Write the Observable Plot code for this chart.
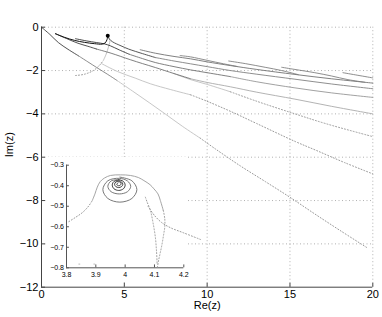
<!DOCTYPE html>
<html><head><meta charset="utf-8">
<script src="https://cdn.jsdelivr.net/npm/d3@7"></script>
<script src="https://cdn.jsdelivr.net/npm/@observablehq/plot@0.6"></script>
<style>
html,body{margin:0;padding:0;background:#fff;}
#wrap{position:relative;width:382px;height:317px;overflow:hidden;}
#wrap svg{position:absolute;overflow:visible;}
</style></head><body><div id="wrap"></div>
<script>
// ---------- main axes data ----------
const mainXTicks = [0, 5, 10, 15, 20];
const mainYTicks = [0, -2, -4, -6, -8, -10, -12];
const mainXGrid = [5, 10, 15, 20];
const mainYGrid = [0, -2, -4, -6, -8, -10];

// trajectories [Re, Im]
const originCurve = [[0,0],[0.5,-0.33],[1.02,-0.71],[1.6,-1.02],[2.23,-1.32],[2.8,-1.6],[3.33,-1.86],[4.0,-2.18],[4.56,-2.46],[5.5,-2.95],[6.5,-3.48],[7.5,-4.02],[8.5,-4.57],[9.58,-5.12],[10.5,-5.62],[12,-6.4],[13.5,-7.12],[15,-7.85],[16.5,-8.62],[18,-9.37],[19.7,-10.2]];
const upperToCusp = [[0.84,-0.30],[1.4,-0.47],[2.0,-0.61],[2.6,-0.70],[3.2,-0.76],[3.66,-0.78],[3.85,-0.72],[3.96,-0.56],[4.0,-0.42]];
const lowerFromStart = [[0.84,-0.30],[1.5,-0.52],[2.2,-0.74],[2.8,-0.88],[3.33,-1.01],[4.2,-1.20],[5.36,-1.50],[6.1,-1.68],[6.87,-1.86],[8,-2.14],[9,-2.38],[10,-2.55],[11.4,-2.75],[13,-3.0],[15.3,-3.32],[17.5,-3.65],[20,-4.0]];
const secondStart = [[2.05,-0.53],[2.7,-0.63],[3.33,-0.71],[3.8,-0.77],[4.16,-0.86],[4.7,-1.05],[5.3,-1.25],[6.1,-1.45],[6.87,-1.63],[8,-1.82],[9,-1.97],[10,-2.10],[11.4,-2.28],[13,-2.52],[15.3,-2.8],[17.5,-3.03],[20,-3.24]];
const cuspCurve = [[4.0,-0.42],[4.1,-0.55],[4.3,-0.68],[4.8,-0.86],[5.26,-1.01],[6.1,-1.22],[6.87,-1.40],[8,-1.56],[9,-1.69],[10,-1.82],[11.4,-2.0],[13,-2.17],[15.3,-2.40],[17.5,-2.62],[20,-2.84]];
const dash1 = [[5.96,-1.04],[6.87,-1.20],[8,-1.35],[9,-1.46],[10,-1.60],[11.4,-1.77],[13,-1.95],[15.3,-2.18],[17.5,-2.38],[20,-2.58]];
const dash2 = [[8.37,-1.31],[9,-1.37],[10,-1.53],[11.0,-1.69],[11.8,-1.81]];
const dash3 = [[11.3,-1.56],[12.3,-1.68],[13.5,-1.85],[14.5,-2.0],[15.5,-2.19]];
const dash4 = [[14.5,-1.85],[15.3,-1.95],[16.5,-2.1],[17.5,-2.25],[18.5,-2.42],[19.5,-2.54]];
const dash5 = [[18.2,-2.10],[19.1,-2.22],[20,-2.34]];
const risingCurve = [[2.05,-2.23],[2.6,-2.17],[3.13,-2.0],[3.5,-1.76],[3.73,-1.54],[3.9,-1.25],[4.04,-0.92],[4.12,-0.7],[4.12,-0.55],[4.05,-0.45]];
const branchP = [[3.6,-1.67],[4.6,-2.05],[5.66,-2.35],[6.57,-2.61],[7.8,-2.88],[9,-3.12],[10,-3.42],[11.4,-3.88],[13,-4.45],[15.3,-5.27],[16.6,-5.69],[18.3,-6.25],[20,-6.77]];
const branchQ = [[8,-2.14],[9,-2.42],[10,-2.64],[11.4,-2.98],[13,-3.42],[15.3,-4.0],[17.2,-4.46],[20,-5.05]];
const cuspPoint = [[4.0,-0.39]];

// ---------- inset data ----------
const insetXTicks = [3.8, 3.9, 4, 4.1, 4.2];
const insetYTicks = [-0.3, -0.4, -0.5, -0.6, -0.7, -0.8];
const arcLeft = [[3.808,-0.575],[3.83,-0.555],[3.855,-0.53],[3.875,-0.50],[3.888,-0.472]];
const arcTop = [[3.888,-0.472],[3.897,-0.44],[3.905,-0.407],[3.915,-0.38],[3.93,-0.362],[3.95,-0.350],[3.984,-0.347],[4.018,-0.350],[4.045,-0.36],[4.064,-0.375],[4.085,-0.395],[4.098,-0.415],[4.112,-0.44],[4.12,-0.472],[4.13,-0.52]];
const arcRight = [[4.13,-0.52],[4.135,-0.56],[4.135,-0.602],[4.131,-0.64],[4.126,-0.683],[4.12,-0.725],[4.114,-0.764],[4.11,-0.797]];
const branchDown = [[4.069,-0.456],[4.075,-0.48],[4.086,-0.52],[4.095,-0.58],[4.103,-0.651],[4.107,-0.72],[4.109,-0.78]];
const branchOut = [[4.078,-0.50],[4.1,-0.545],[4.125,-0.58],[4.155,-0.605],[4.2,-0.63],[4.257,-0.662]];
const bottomTrail = [[3.842,-0.782],[3.893,-0.782],[3.944,-0.782]];
const spiralOuter = [[3.982,-0.358],[4.023,-0.376],[4.040,-0.419],[4.023,-0.462],[3.982,-0.480],[3.941,-0.462],[3.924,-0.419],[3.941,-0.376],[3.98,-0.364],[4.008,-0.377],[4.019,-0.403],[4.008,-0.429],[3.98,-0.440],[3.952,-0.429],[3.941,-0.403],[3.952,-0.377],[3.978,-0.370]];
const spiralInner = [[3.978,-0.370],[3.994,-0.379],[4.000,-0.397],[3.994,-0.415],[3.978,-0.423],[3.962,-0.415],[3.956,-0.397],[3.962,-0.379],[3.978,-0.375],[3.988,-0.382],[3.992,-0.393],[3.988,-0.404],[3.978,-0.409],[3.968,-0.404],[3.964,-0.393],[3.968,-0.382],[3.978,-0.379],[3.985,-0.386],[3.986,-0.393],[3.978,-0.400],[3.971,-0.393],[3.976,-0.386]];

// ---------- helpers ----------
const FONT = "'Liberation Sans', Arial, Helvetica, sans-serif";
const minus = d => d < 0 ? "\u2212" + String(Math.abs(d)) : String(d);
const minus1 = d => d < 0 ? "\u2212" + Math.abs(d).toFixed(1) : d.toFixed(1);
function seg(data, i0, i1, opts) {
  return Plot.line(data.slice(i0, i1 + 1), Object.assign({x: d => d[0], y: d => d[1], curve: "catmull-rom", strokeWidth: 0.85}, opts));
}
const dotted = {stroke: "#9a9a9a", strokeDasharray: "1,2", strokeWidth: 1};

const main = Plot.plot({
  width: 382, height: 317,
  marginLeft: 41, marginRight: 9.7, marginTop: 26.7, marginBottom: 30.3,
  style: {background: "white", fontFamily: FONT, fontSize: "11px", color: "#000", overflow: "visible"},
  x: {domain: [0, 20]},
  y: {domain: [-12, 0]},
  marks: [
    Plot.ruleX(mainXGrid, {stroke: "#a8a8a8", strokeDasharray: "1,2.5", strokeWidth: 0.9}),
    Plot.ruleY(mainYGrid, {stroke: "#a8a8a8", strokeDasharray: "1,2.5", strokeWidth: 0.9}),
    Plot.ruleX([0], {stroke: "#444"}),
    Plot.ruleY([-12], {stroke: "#444"}),
    Plot.ruleX(mainXTicks, {x: d => d, y1: -12, y2: -11.82, stroke: "#444"}),
    Plot.ruleY(mainYTicks, {y: d => d, x1: 0, x2: 0.24, stroke: "#444"}),
    Plot.axisX({ticks: mainXTicks, tickSize: 0, tickPadding: 3, tickFormat: minus, label: null}),
    Plot.axisY({ticks: mainYTicks, tickSize: 0, tickPadding: 3, tickFormat: minus, label: null}),
    // trajectories
    seg(originCurve, 0, 4, {stroke: "#333"}),
    seg(originCurve, 4, 8, {stroke: "#777"}),
    seg(originCurve, 8, 13, {stroke: "#bdbdbd"}),
    seg(originCurve, 13, 20, dotted),
    seg(risingCurve, 0, 4, dotted),
    seg(risingCurve, 4, 9, {stroke: "#b5b5b5"}),
    seg(branchP, 0, 5, {stroke: "#bdbdbd"}),
    seg(branchP, 5, 12, dotted),
    seg(branchQ, 0, 3, {stroke: "#bdbdbd"}),
    seg(branchQ, 3, 7, dotted),
    seg(lowerFromStart, 0, 4, {stroke: "#333"}),
    seg(lowerFromStart, 4, 10, {stroke: "#6a6a6a"}),
    seg(lowerFromStart, 10, 16, {stroke: "#a5a5a5"}),
    seg(secondStart, 0, 6, {stroke: "#2a2a2a"}),
    seg(secondStart, 6, 12, {stroke: "#6a6a6a"}),
    seg(secondStart, 12, 16, {stroke: "#909090"}),
    seg(cuspCurve, 0, 6, {stroke: "#3a3a3a"}),
    seg(cuspCurve, 6, 14, {stroke: "#7a7a7a"}),
    seg(dash1, 0, 9, {stroke: "#6a6a6a"}),
    seg(dash2, 0, 4, {stroke: "#7a7a7a"}),
    seg(dash3, 0, 4, {stroke: "#7a7a7a"}),
    seg(dash4, 0, 5, {stroke: "#7a7a7a"}),
    seg(dash5, 0, 2, {stroke: "#7a7a7a"}),
    seg(upperToCusp, 0, 8, {stroke: "#111", strokeWidth: 1}),
    Plot.dot(cuspPoint, {x: d => d[0], y: d => d[1], r: 2, fill: "#000", stroke: null}),
    Plot.text(["Re(z)"], {frameAnchor: "bottom", dy: 22, text: d => d, fontSize: 11}),
    Plot.text(["Im(z)"], {frameAnchor: "left", dx: -32, rotate: -90, text: d => d, fontSize: 11})
  ]
});

const inset = Plot.plot({
  width: 142, height: 123,
  marginLeft: 20, marginRight: 4.7, marginTop: 7.7, marginBottom: 12.7,
  style: {background: "white", fontFamily: FONT, fontSize: "7px", color: "#000", overflow: "visible"},
  x: {domain: [3.8, 4.2]},
  y: {domain: [-0.8, -0.3]},
  marks: [
    Plot.ruleX([3.8], {stroke: "#555"}),
    Plot.ruleY([-0.8], {stroke: "#555"}),
    Plot.ruleX(insetXTicks, {x: d => d, y1: -0.8, y2: -0.786, stroke: "#555"}),
    Plot.ruleY(insetYTicks, {y: d => d, x1: 3.8, x2: 3.81, stroke: "#555"}),
    Plot.axisX({ticks: insetXTicks, tickSize: 0, tickPadding: 4, tickFormat: d => String(d), label: null}),
    Plot.axisY({ticks: insetYTicks, tickSize: 0, tickPadding: 2.5, tickFormat: minus1, label: null}),
    seg(arcLeft, 0, 4, dotted),
    seg(arcTop, 0, 14, {stroke: "#9a9a9a", strokeWidth: 0.9}),
    seg(arcRight, 0, 7, dotted),
    seg(branchDown, 0, 6, dotted),
    seg(branchOut, 0, 5, dotted),
    Plot.line(bottomTrail, {x: d => d[0], y: d => d[1], stroke: "#bbb", strokeDasharray: "1,14", strokeWidth: 1}),
    seg(spiralOuter, 0, 16, {stroke: "#6a6a6a", strokeWidth: 0.9}),
    seg(spiralInner, 0, 21, {stroke: "#2a2a2a", strokeWidth: 0.9})
  ]
});

const wrap = document.getElementById("wrap");
main.style.left = "0px"; main.style.top = "0px";
inset.style.left = "46px"; inset.style.top = "157px";
wrap.appendChild(main);
wrap.appendChild(inset);
</script></body></html>
